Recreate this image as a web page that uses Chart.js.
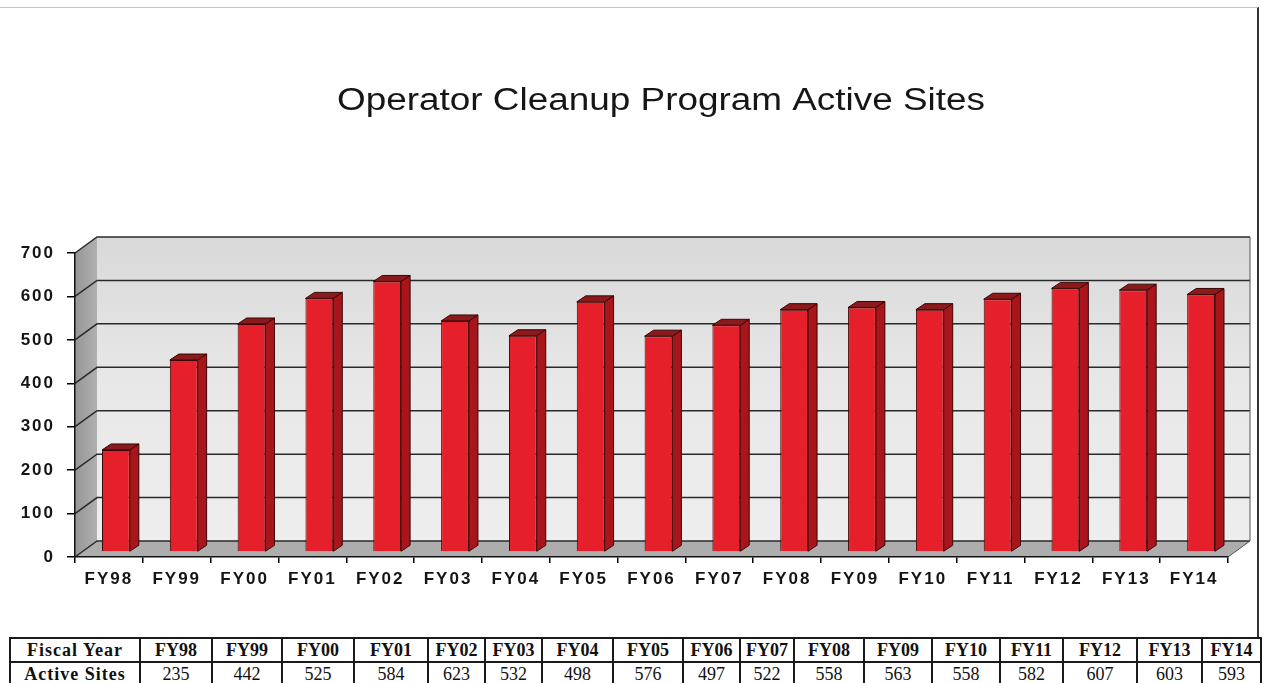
<!DOCTYPE html>
<html>
<head>
<meta charset="utf-8">
<title>Operator Cleanup Program Active Sites</title>
<script src="https://cdn.jsdelivr.net/npm/chart.js@4.4.1/dist/chart.umd.min.js"></script>
<style>
  body { margin: 0; background: #fff; }
  #wrap { position: relative; width: 1267px; height: 683px; overflow: hidden; }
  #frame { position: absolute; left: -2px; top: 7px; width: 1259px; height: 700px;
           border-top: 1px solid #c4c4c4; border-right: 2px solid #333; }
  #chart { position: absolute; left: 0; top: 0; }
  #dataTable { position: absolute; left: 9px; top: 637px; border-collapse: collapse;
               table-layout: fixed; font-family: "Liberation Serif", serif; font-size: 18px;
               background: #fff; color: #111; }
  #dataTable td { border: 2px solid #1a1a1a; text-align: center; padding: 0;
                  height: 22px; line-height: 22px; white-space: nowrap; overflow: hidden; }
  #dataTable tr.years td { font-weight: bold; }
  #dataTable td.head { font-weight: bold; letter-spacing: 1px; }
</style>
</head>
<body>
<div id="wrap">
  <div id="frame"></div>
  <canvas id="chart" width="1267" height="683"></canvas>
  <table id="dataTable"></table>
</div>
<script>
const chartTitle = 'Operator Cleanup Program Active Sites';
const fiscalYears = ['FY98', 'FY99', 'FY00', 'FY01', 'FY02', 'FY03', 'FY04', 'FY05', 'FY06',
                     'FY07', 'FY08', 'FY09', 'FY10', 'FY11', 'FY12', 'FY13', 'FY14'];
const activeSites = [235, 442, 525, 584, 623, 532, 498, 576, 497, 522, 558, 563, 558, 582, 607, 603, 593];
const yMax = 700;
const yStep = 100;
const rowHeads = ['Fiscal Year', 'Active Sites'];

// widths of the table columns in the scan
const colWidths = [130, 72, 70, 72, 74, 57, 57, 71, 70, 57, 54, 70, 68, 68, 63, 74, 65, 59];

const DX = 22, DY = -16;        // depth of the 3d box
const BDX = 9, BDY = -6;        // depth of one bar
const SHIFT_X = 7, SHIFT_Y = -5; // bars sit a bit behind the front edge

function buildTable() {
  const table = document.getElementById('dataTable');
  const cg = document.createElement('colgroup');
  colWidths.forEach(w => {
    const c = document.createElement('col');
    c.style.width = w + 'px';
    cg.appendChild(c);
  });
  table.appendChild(cg);
  const rows = [fiscalYears, activeSites];
  rows.forEach((vals, i) => {
    const tr = document.createElement('tr');
    if (i === 0) tr.className = 'years';
    const th = document.createElement('td');
    th.className = 'head';
    th.textContent = rowHeads[i];
    tr.appendChild(th);
    vals.forEach(v => {
      const td = document.createElement('td');
      td.textContent = v;
      tr.appendChild(td);
    });
    table.appendChild(tr);
  });
}

function poly(ctx, pts, fill, stroke) {
  ctx.beginPath();
  ctx.moveTo(pts[0][0], pts[0][1]);
  for (let i = 1; i < pts.length; i++) ctx.lineTo(pts[i][0], pts[i][1]);
  ctx.closePath();
  if (fill) { ctx.fillStyle = fill; ctx.fill(); }
  if (stroke) { ctx.strokeStyle = stroke; ctx.stroke(); }
}

// back wall, side wall, floor and grid lines
const wallsPlugin = {
  id: 'walls',
  beforeDraw(chart) {
    const { ctx, chartArea: a, scales: { y } } = chart;
    ctx.save();
    ctx.lineWidth = 1;
    const g = ctx.createLinearGradient(0, a.top + DY, 0, a.bottom + DY);
    g.addColorStop(0, '#d9d9d9');
    g.addColorStop(0.5, '#e8e8e8');
    g.addColorStop(1, '#eeeeee');
    ctx.fillStyle = g;
    ctx.fillRect(a.left + DX, a.top + DY, a.right - a.left, a.bottom - a.top);

    const lg = ctx.createLinearGradient(a.left, 0, a.left + DX, 0);
    lg.addColorStop(0, '#969696');
    lg.addColorStop(1, '#b0b0b0');
    poly(ctx, [[a.left, a.bottom], [a.left, a.top], [a.left + DX, a.top + DY], [a.left + DX, a.bottom + DY]], lg);
    poly(ctx, [[a.left, a.bottom], [a.left + DX, a.bottom + DY], [a.right + DX, a.bottom + DY], [a.right, a.bottom]], '#adadad');

    ctx.strokeStyle = '#2a2a2a';
    ctx.lineWidth = 1.5;
    y.ticks.forEach(t => {
      const py = y.getPixelForValue(t.value);
      ctx.beginPath();
      ctx.moveTo(a.left, py);
      ctx.lineTo(a.left + DX, py + DY);
      ctx.lineTo(a.right + DX, py + DY);
      ctx.stroke();
    });
    // outer edges
    ctx.lineWidth = 1;
    ctx.strokeStyle = '#555';
    ctx.beginPath();
    ctx.moveTo(a.right + DX, a.top + DY);
    ctx.lineTo(a.right + DX, a.bottom + DY);
    ctx.lineTo(a.right, a.bottom);
    ctx.stroke();
    ctx.restore();
    ctx.letterSpacing = '2px';
  }
};

// 3d faces on each bar
const barsPlugin = {
  id: 'bars3d',
  beforeDatasetsDraw(chart) {
    chart.ctx.save();
    chart.ctx.translate(SHIFT_X, SHIFT_Y);
  },
  afterDatasetsDraw(chart) {
    const ctx = chart.ctx;
    ctx.lineWidth = 1;
    chart.getDatasetMeta(0).data.forEach(bar => {
      const l = bar.x - bar.width / 2, r = bar.x + bar.width / 2;
      const t = bar.y, b = bar.base;
      poly(ctx, [[r, t], [r + BDX, t + BDY], [r + BDX, b + BDY], [r, b]], '#a8161c', '#3a0505');
      poly(ctx, [[l, t], [l + BDX, t + BDY], [r + BDX, t + BDY], [r, t]], '#8a1a1c', '#3a0505');
    });
    ctx.restore();
  }
};

const titlePlugin = {
  id: 'stretchedTitle',
  afterDraw(chart) {
    const ctx = chart.ctx;
    ctx.save();
    ctx.letterSpacing = '0px';
    ctx.font = '31px "Liberation Sans", Arial, sans-serif';
    ctx.fillStyle = '#161616';
    ctx.textAlign = 'center';
    ctx.textBaseline = 'middle';
    const k = 648 / ctx.measureText(chartTitle).width;
    ctx.translate(661, 101);
    ctx.scale(k, 1);
    ctx.fillText(chartTitle, 0, 0);
    ctx.restore();
  }
};

function drawChart() {
  const tickFont = { family: '"Liberation Sans", Arial, sans-serif', size: 17, weight: 'bold' };
  new Chart(document.getElementById('chart'), {
    type: 'bar',
    data: {
      labels: fiscalYears,
      datasets: [{
        label: 'Active Sites',
        data: activeSites,
        backgroundColor: '#e5202a',
        borderColor: '#3a0505',
        borderWidth: 1,
        barPercentage: 0.41,
        categoryPercentage: 1
      }]
    },
    options: {
      responsive: false,
      animation: false,
      layout: { padding: { top: 253, left: 0, right: 39, bottom: 86 } },
      plugins: {
        legend: { display: false },
        tooltip: { enabled: false }
      },
      scales: {
        x: {
          grid: { offset: true, drawOnChartArea: false, tickLength: 6, color: '#000', lineWidth: 1.5 },
          border: { color: '#111', width: 1.5 },
          ticks: { color: '#151515', font: tickFont, padding: 6, autoSkip: false, maxRotation: 0 },
          afterFit: s => { s.height = 40; }
        },
        y: {
          min: 0,
          max: yMax,
          grid: { drawOnChartArea: false, tickLength: 8, color: '#000', lineWidth: 1.5 },
          border: { color: '#111', width: 1.5 },
          ticks: { stepSize: yStep, color: '#151515', font: tickFont, padding: 12 },
          afterFit: s => { s.width = 75; }
        }
      }
    },
    plugins: [wallsPlugin, barsPlugin, titlePlugin]
  });
}

buildTable();
drawChart();
</script>
</body>
</html>
